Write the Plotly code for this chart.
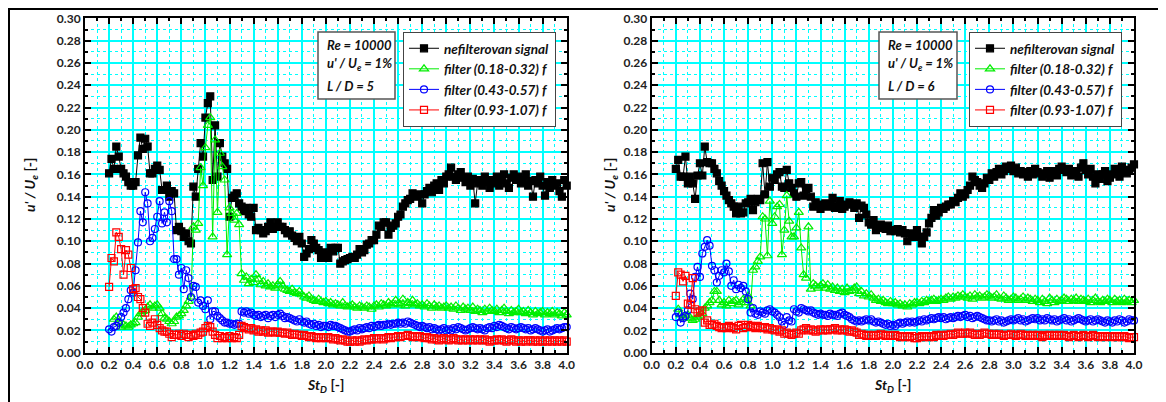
import plotly.graph_objects as go

ST = [0.20,0.22,0.24,0.26,0.28,0.30,0.32,0.34,0.36,0.38,
      0.40,0.42,0.44,0.46,0.48,0.50,0.52,0.54,0.56,0.58,
      0.60,0.62,0.64,0.66,0.68,0.70,0.72,0.74,0.76,0.78,
      0.80,0.82,0.84,0.86,0.88,0.90,0.92,0.94,0.96,0.98,
      1.00,1.02,1.04,1.06,1.08,1.10,1.12,1.14,1.16,1.18,
      1.20,1.22,1.24,1.26,1.28,1.30,1.32,1.34,1.36,1.38,
      1.40,1.42,1.44,1.46,1.48,1.50,1.52,1.54,1.56,1.58,
      1.60,1.62,1.64,1.66,1.68,1.70,1.72,1.74,1.76,1.78,
      1.80,1.82,1.84,1.86,1.88,1.90,1.92,1.94,1.96,1.98,
      2.00,2.02,2.04,2.06,2.08,2.10,2.12,2.14,2.16,2.18,
      2.20,2.22,2.24,2.26,2.28,2.30,2.32,2.34,2.36,2.38,
      2.40,2.42,2.44,2.46,2.48,2.50,2.52,2.54,2.56,2.58,
      2.60,2.62,2.64,2.66,2.68,2.70,2.72,2.74,2.76,2.78,
      2.80,2.82,2.84,2.86,2.88,2.90,2.92,2.94,2.96,2.98,
      3.00,3.02,3.04,3.06,3.08,3.10,3.12,3.14,3.16,3.18,
      3.20,3.22,3.24,3.26,3.28,3.30,3.32,3.34,3.36,3.38,
      3.40,3.42,3.44,3.46,3.48,3.50,3.52,3.54,3.56,3.58,
      3.60,3.62,3.64,3.66,3.68,3.70,3.72,3.74,3.76,3.78,
      3.80,3.82,3.84,3.86,3.88,3.90,3.92,3.94,3.96,3.98,4.00]

# ---------------- L/D = 5 ----------------
LD5_raw = [0.161,0.174,0.165,0.185,0.176,0.165,0.161,0.158,0.153,0.150,
           0.150,0.153,0.177,0.193,0.183,0.192,0.185,0.161,0.161,0.165,
           0.168,0.164,0.146,0.146,0.150,0.140,0.145,0.143,0.110,0.113,
           0.109,0.104,0.107,0.100,0.098,0.149,0.140,0.165,0.188,0.176,
           0.211,0.224,0.230,0.155,0.204,0.158,0.188,0.176,0.170,0.165,
           0.122,0.139,0.141,0.143,0.134,0.131,0.127,0.130,0.124,0.122,
           0.130,0.110,0.112,0.110,0.107,0.109,0.113,0.117,0.111,0.113,
           0.117,0.113,0.113,0.110,0.107,0.109,0.105,0.103,0.100,0.104,
           0.098,0.086,0.089,0.093,0.101,0.098,0.094,0.092,0.085,0.090,
           0.088,0.085,0.094,0.091,0.094,0.094,0.080,0.082,0.083,0.084,
           0.085,0.086,0.085,0.088,0.093,0.090,0.092,0.097,0.098,0.101,
           0.101,0.106,0.114,0.113,0.117,0.117,0.106,0.112,0.114,0.116,
           0.122,0.124,0.131,0.134,0.137,0.138,0.143,0.141,0.140,0.142,
           0.134,0.142,0.145,0.148,0.144,0.150,0.152,0.146,0.155,0.152,
           0.158,0.160,0.166,0.158,0.155,0.160,0.162,0.157,0.153,0.158,
           0.150,0.156,0.134,0.152,0.155,0.150,0.158,0.153,0.148,0.155,
           0.152,0.158,0.150,0.155,0.160,0.152,0.148,0.157,0.160,0.155,
           0.158,0.152,0.155,0.160,0.150,0.154,0.140,0.155,0.152,0.158,
           0.150,0.141,0.153,0.148,0.155,0.150,0.152,0.145,0.140,0.155,0.150]

LD5_f1 = [None,None,0.030,0.032,0.027,0.023,0.025,0.024,0.023,0.025,
          0.026,0.027,0.032,0.035,0.037,0.038,0.041,0.043,0.040,0.042,
          0.043,0.040,0.035,0.031,0.030,0.028,0.026,0.028,0.032,0.033,
          0.035,0.038,0.042,0.046,0.050,0.113,0.110,0.116,0.166,0.150,
          0.184,0.204,0.211,0.104,0.191,0.126,0.179,0.167,0.155,0.088,
          0.130,0.125,0.119,0.125,0.115,0.071,0.065,0.068,0.062,0.066,
          0.063,0.070,0.066,0.061,0.064,0.060,0.062,0.059,0.060,0.058,
          0.061,0.064,0.060,0.057,0.056,0.055,0.057,0.054,0.053,0.055,
          0.052,0.050,0.049,0.051,0.048,0.047,0.046,0.048,0.046,0.045,
          0.046,0.044,0.045,0.043,0.044,0.043,0.042,0.045,0.042,0.041,
          0.042,0.043,0.041,0.040,0.042,0.041,0.040,0.042,0.041,0.039,
          0.042,0.043,0.041,0.044,0.043,0.042,0.045,0.043,0.044,0.047,
          0.044,0.043,0.048,0.042,0.045,0.044,0.047,0.043,0.044,0.042,
          0.043,0.041,0.044,0.042,0.040,0.043,0.041,0.042,0.040,0.041,
          0.042,0.040,0.041,0.039,0.042,0.040,0.038,0.041,0.039,0.040,
          0.038,0.041,0.037,0.039,0.038,0.036,0.039,0.037,0.040,0.038,
          0.037,0.039,0.036,0.038,0.040,0.037,0.035,0.038,0.036,0.037,
          0.039,0.036,0.037,0.035,0.038,0.036,0.034,0.037,0.035,0.036,
          0.037,0.034,0.036,0.035,0.037,0.034,0.036,0.035,0.033,0.036,0.034]

LD5_f2 = [0.021,0.019,0.023,0.024,0.027,0.032,0.036,0.040,0.048,0.056,
          0.054,0.074,0.099,0.127,0.117,0.144,0.134,0.100,0.103,0.111,
          0.122,0.136,0.116,0.126,0.117,0.136,0.127,0.084,0.084,0.070,
          0.076,0.057,0.074,0.067,0.050,0.060,0.059,0.045,0.047,0.042,
          0.039,0.047,0.030,0.037,0.037,0.033,0.031,0.029,0.027,0.027,
          0.026,0.026,0.025,0.026,0.026,0.037,0.036,0.037,0.035,0.036,
          0.034,0.033,0.034,0.032,0.033,0.034,0.031,0.033,0.034,0.032,
          0.034,0.035,0.033,0.031,0.032,0.031,0.030,0.029,0.028,0.030,
          0.028,0.027,0.028,0.026,0.025,0.026,0.024,0.025,0.023,0.024,
          0.024,0.023,0.025,0.024,0.024,0.023,0.022,0.021,0.020,0.019,
          0.019,0.020,0.021,0.020,0.022,0.021,0.022,0.023,0.022,0.024,
          0.023,0.024,0.025,0.024,0.025,0.025,0.026,0.025,0.026,0.026,
          0.027,0.026,0.027,0.026,0.028,0.027,0.026,0.025,0.024,0.023,
          0.024,0.023,0.022,0.023,0.021,0.022,0.021,0.020,0.021,0.022,
          0.020,0.021,0.020,0.022,0.021,0.023,0.022,0.021,0.020,0.021,
          0.022,0.023,0.022,0.021,0.022,0.021,0.020,0.022,0.023,0.022,
          0.024,0.023,0.025,0.024,0.023,0.022,0.021,0.023,0.022,0.021,
          0.022,0.023,0.022,0.021,0.022,0.020,0.021,0.022,0.021,0.020,
          0.019,0.020,0.021,0.019,0.020,0.021,0.022,0.021,0.022,0.023,0.023]

LD5_f3 = [0.059,0.085,0.082,0.108,0.104,0.093,0.070,0.092,0.088,0.076,
          0.057,0.058,0.050,0.048,0.040,0.036,0.026,0.024,0.027,0.030,
          0.025,0.022,0.020,0.019,0.019,0.017,0.014,0.016,0.016,0.017,
          0.015,0.017,0.016,0.014,0.016,0.015,0.017,0.016,0.018,0.019,
          0.022,0.024,0.023,0.019,0.016,0.013,0.015,0.013,0.014,0.013,
          0.015,0.013,0.014,0.013,0.016,0.024,0.023,0.022,0.021,0.022,
          0.020,0.021,0.019,0.020,0.019,0.020,0.018,0.019,0.019,0.018,
          0.019,0.018,0.018,0.017,0.018,0.017,0.016,0.017,0.016,0.016,
          0.015,0.016,0.015,0.014,0.015,0.014,0.013,0.014,0.013,0.014,
          0.013,0.014,0.013,0.012,0.013,0.012,0.011,0.012,0.011,0.010,
          0.010,0.011,0.010,0.011,0.010,0.011,0.012,0.011,0.012,0.012,
          0.013,0.012,0.013,0.013,0.012,0.013,0.014,0.013,0.014,0.014,
          0.015,0.014,0.015,0.015,0.016,0.015,0.014,0.015,0.014,0.015,
          0.014,0.013,0.014,0.013,0.012,0.013,0.012,0.011,0.012,0.013,
          0.012,0.011,0.012,0.013,0.012,0.011,0.012,0.011,0.012,0.011,
          0.012,0.011,0.012,0.011,0.012,0.011,0.012,0.011,0.010,0.011,
          0.011,0.012,0.011,0.012,0.011,0.010,0.011,0.012,0.011,0.010,
          0.011,0.010,0.011,0.010,0.011,0.011,0.010,0.011,0.010,0.011,
          0.010,0.011,0.010,0.011,0.010,0.011,0.010,0.011,0.010,0.011,0.010]

# ---------------- L/D = 6 ----------------
LD6_raw = [0.165,0.173,0.158,0.158,0.176,0.152,0.158,0.152,0.138,0.159,
           0.170,0.159,0.185,0.171,0.170,0.170,0.165,0.161,0.154,0.150,
           0.145,0.141,0.137,0.134,0.131,0.125,0.131,0.125,0.126,0.134,
           0.135,0.138,0.128,0.135,0.138,0.137,0.170,0.142,0.171,0.149,
           0.157,0.155,0.160,0.162,0.149,0.148,0.164,0.152,0.148,0.143,
           0.140,0.152,0.153,0.141,0.147,0.148,0.140,0.131,0.135,0.133,
           0.129,0.132,0.134,0.131,0.133,0.139,0.130,0.132,0.136,0.129,
           0.131,0.133,0.135,0.133,0.130,0.134,0.121,0.132,0.130,0.124,
           0.117,0.115,0.119,0.110,0.112,0.115,0.113,0.111,0.114,0.109,
           0.110,0.109,0.111,0.108,0.110,0.107,0.100,0.107,0.104,0.106,
           0.110,0.104,0.098,0.104,0.108,0.116,0.121,0.128,0.123,0.126,
           0.130,0.129,0.131,0.133,0.133,0.136,0.135,0.139,0.143,0.140,
           0.142,0.146,0.150,0.158,0.155,0.153,0.150,0.148,0.152,0.157,
           0.155,0.161,0.158,0.162,0.165,0.160,0.163,0.167,0.165,0.168,
           0.163,0.166,0.161,0.163,0.160,0.162,0.158,0.163,0.160,0.165,
           0.162,0.161,0.158,0.160,0.163,0.157,0.160,0.163,0.159,0.165,
           0.167,0.164,0.162,0.165,0.159,0.163,0.161,0.158,0.166,0.170,
           0.164,0.160,0.165,0.158,0.152,0.160,0.156,0.160,0.163,0.154,
           0.157,0.160,0.165,0.162,0.158,0.167,0.163,0.161,0.164,0.166,0.169]

LD6_f1 = [None,0.039,0.034,0.031,0.033,0.034,0.031,0.029,0.030,0.032,
          0.033,0.035,0.040,0.042,0.045,0.047,0.055,0.055,0.047,0.043,
          0.045,0.042,0.047,0.044,0.046,0.047,0.043,0.045,0.048,0.045,
          0.051,0.042,0.074,0.077,0.082,0.086,0.122,0.120,0.087,0.136,
          0.116,0.122,0.131,0.133,0.088,0.110,0.141,0.118,0.104,0.104,
          0.112,0.126,0.094,0.070,0.067,0.113,0.057,0.062,0.060,0.058,
          0.060,0.062,0.058,0.061,0.057,0.059,0.056,0.058,0.055,0.057,
          0.054,0.058,0.055,0.056,0.058,0.059,0.053,0.055,0.051,0.053,
          0.050,0.052,0.049,0.047,0.048,0.046,0.047,0.045,0.044,0.046,
          0.044,0.045,0.043,0.044,0.042,0.043,0.041,0.044,0.043,0.045,
          0.045,0.044,0.046,0.045,0.047,0.046,0.047,0.048,0.046,0.047,
          0.048,0.047,0.049,0.050,0.048,0.050,0.049,0.051,0.050,0.052,
          0.050,0.049,0.051,0.048,0.052,0.050,0.051,0.049,0.050,0.052,
          0.051,0.049,0.050,0.052,0.049,0.048,0.051,0.049,0.047,0.048,
          0.050,0.049,0.047,0.048,0.050,0.047,0.049,0.048,0.046,0.048,
          0.047,0.045,0.048,0.046,0.044,0.049,0.047,0.045,0.048,0.046,
          0.047,0.049,0.048,0.046,0.048,0.047,0.049,0.046,0.048,0.047,
          0.046,0.048,0.045,0.047,0.049,0.046,0.045,0.047,0.046,0.048,
          0.047,0.045,0.048,0.046,0.047,0.045,0.048,0.046,0.047,0.045,0.047]

LD6_f2 = [0.032,0.036,0.027,0.031,0.033,0.038,0.053,0.048,0.068,0.077,
          0.068,0.089,0.095,0.101,0.096,0.078,0.074,0.063,0.069,0.074,
          0.072,0.080,0.073,0.060,0.065,0.057,0.061,0.058,0.060,0.055,
          0.048,0.036,0.040,0.035,0.034,0.037,0.036,0.035,0.038,0.039,
          0.037,0.036,0.034,0.032,0.028,0.025,0.032,0.029,0.028,0.039,
          0.037,0.036,0.040,0.039,0.038,0.037,0.038,0.036,0.035,0.034,
          0.035,0.034,0.034,0.033,0.035,0.034,0.034,0.033,0.035,0.036,
          0.034,0.033,0.032,0.030,0.029,0.028,0.029,0.028,0.029,0.030,
          0.029,0.030,0.028,0.027,0.028,0.027,0.026,0.025,0.026,0.024,
          0.025,0.024,0.026,0.027,0.026,0.027,0.028,0.027,0.028,0.027,
          0.028,0.029,0.028,0.030,0.029,0.030,0.031,0.030,0.031,0.032,
          0.031,0.032,0.030,0.031,0.032,0.031,0.032,0.033,0.032,0.033,
          0.034,0.032,0.033,0.031,0.032,0.033,0.032,0.031,0.030,0.029,
          0.029,0.028,0.029,0.030,0.028,0.029,0.027,0.028,0.029,0.030,
          0.029,0.030,0.031,0.029,0.030,0.028,0.029,0.030,0.031,0.030,
          0.031,0.029,0.030,0.029,0.031,0.030,0.029,0.030,0.028,0.029,
          0.030,0.031,0.029,0.030,0.028,0.029,0.030,0.031,0.030,0.029,
          0.028,0.029,0.030,0.028,0.029,0.030,0.029,0.028,0.027,0.029,
          0.028,0.027,0.029,0.028,0.030,0.029,0.027,0.028,0.030,0.029,0.029]

LD6_f3 = [0.051,0.072,0.070,0.064,0.069,0.044,0.043,0.067,0.039,0.036,
          0.037,0.038,0.027,0.029,0.025,0.025,0.026,0.024,0.023,0.022,
          0.023,0.022,0.024,0.023,0.022,0.021,0.024,0.025,0.022,0.023,
          0.025,0.024,0.023,0.022,0.024,0.023,0.022,0.023,0.021,0.022,
          0.021,0.020,0.021,0.019,0.020,0.017,0.018,0.017,0.016,0.017,
          0.018,0.017,0.020,0.021,0.022,0.020,0.021,0.020,0.019,0.020,
          0.021,0.020,0.021,0.020,0.021,0.021,0.022,0.020,0.021,0.020,
          0.021,0.020,0.019,0.020,0.019,0.018,0.016,0.017,0.016,0.015,
          0.016,0.015,0.016,0.015,0.016,0.017,0.016,0.015,0.016,0.015,
          0.015,0.016,0.015,0.014,0.015,0.014,0.015,0.014,0.015,0.013,
          0.013,0.014,0.015,0.014,0.015,0.014,0.015,0.014,0.016,0.015,
          0.016,0.015,0.016,0.016,0.017,0.016,0.017,0.018,0.017,0.017,
          0.018,0.017,0.018,0.017,0.016,0.017,0.016,0.017,0.018,0.017,
          0.017,0.016,0.017,0.016,0.017,0.016,0.015,0.016,0.016,0.017,
          0.016,0.015,0.016,0.017,0.016,0.015,0.016,0.015,0.016,0.015,
          0.016,0.015,0.014,0.016,0.015,0.016,0.015,0.016,0.015,0.016,
          0.015,0.016,0.015,0.014,0.015,0.016,0.015,0.014,0.015,0.016,
          0.015,0.014,0.015,0.016,0.015,0.014,0.015,0.015,0.014,0.015,
          0.015,0.014,0.015,0.014,0.015,0.014,0.015,0.014,0.013,0.014,0.014]

SERIES_NAMES = ["nefilterovan signal", "filter (0.18-0.32) f",
                "filter (0.43-0.57) f", "filter (0.93-1.07) f"]
X_TICKS = [0.0,0.2,0.4,0.6,0.8,1.0,1.2,1.4,1.6,1.8,2.0,2.2,2.4,2.6,2.8,3.0,3.2,3.4,3.6,3.8,4.0]
Y_TICKS = [0.00,0.02,0.04,0.06,0.08,0.10,0.12,0.14,0.16,0.18,0.20,0.22,0.24,0.26,0.28,0.30]
INFO = ["L / D = 5", "L / D = 6"]

# The page body has an 8 px margin, so the figure starts at window pixel (8, 8).
OFF = 8
W, H = 1166 - OFF, 402 - OFF
FONT = "Lato"

def px_x(p):
    # p: window pixel column
    return (p - OFF) / W

def px_y(p):
    # p: window pixel row
    return 1 - (p - OFF) / H

styles = [
    dict(color="#000000", symbol="square", size=7),
    dict(color="#00ee00", symbol="triangle-up-open", size=8),
    dict(color="#0000ff", symbol="circle-open", size=7),
    dict(color="#ff0000", symbol="square-open", size=7),
]

fig = go.Figure()
panels = [
    ([LD5_raw, LD5_f1, LD5_f2, LD5_f3], "x", "y", "legend"),
    ([LD6_raw, LD6_f1, LD6_f2, LD6_f3], "x2", "y2", "legend2"),
]
for data, xa, ya, lg in panels:
    for name, ys, st in zip(SERIES_NAMES, data, styles):
        fig.add_trace(go.Scatter(
            x=ST, y=ys, xaxis=xa, yaxis=ya, legend=lg,
            name="<b><i>" + name + "</i></b>",
            mode="lines+markers", cliponaxis=False,
            line=dict(color=st["color"], width=1),
            marker=dict(symbol=st["symbol"], size=st["size"], color=st["color"],
                        line=dict(color=st["color"], width=1.2)),
        ))

# plot area bounds in window pixels
L_X = (85, 566.7)
R_X = (651.7, 1134)
Y_PX = (18.4, 352.7)

def xaxis_cfg(dom, anchor):
    return dict(
        domain=[px_x(dom[0]), px_x(dom[1])], anchor=anchor, range=[0, 4],
        automargin=False,
        tickvals=X_TICKS, ticktext=["<b>%.1f</b>" % v for v in X_TICKS],
        ticks="inside", ticklen=6, tickwidth=1.5, tickcolor="#000",
        showline=True, linewidth=2, linecolor="#000", mirror="ticks",
        showgrid=True, gridcolor="#00ffff", gridwidth=1.5, zeroline=False,
        tickfont=dict(family=FONT, size=12, color="#222"),
        minor=dict(dtick=0.1, tick0=0, ticks="inside", ticklen=3, tickcolor="#000",
                   showgrid=True, gridcolor="#00ffff", griddash="dot", gridwidth=1),
    )

def yaxis_cfg(anchor):
    return dict(
        domain=[px_y(Y_PX[1]), px_y(Y_PX[0])], anchor=anchor, range=[0, 0.30],
        automargin=False,
        tickvals=Y_TICKS, ticktext=["<b>%.2f</b>" % v for v in Y_TICKS],
        ticks="inside", ticklen=6, tickwidth=1.5, tickcolor="#000",
        showline=True, linewidth=2, linecolor="#000", mirror="ticks",
        showgrid=True, gridcolor="#00ffff", gridwidth=1.5, zeroline=False,
        tickfont=dict(family=FONT, size=12, color="#222"),
        minor=dict(dtick=0.01, tick0=0, ticks="inside", ticklen=3, tickcolor="#000",
                   showgrid=True, gridcolor="#00ffff", griddash="dot", gridwidth=1),
    )

legend_common = dict(
    bgcolor="#ffffff", bordercolor="#444444", borderwidth=1,
    font=dict(family=FONT, size=13.5, color="#111"),
    xanchor="left", yanchor="top", tracegroupgap=0, itemwidth=30,
)

shapes = [
    dict(type="line", xref="paper", yref="paper", x0=0, x1=1, y0=px_y(9), y1=px_y(9),
         line=dict(color="#000", width=2)),
    dict(type="line", xref="paper", yref="paper", x0=px_x(9), x1=px_x(9), y0=px_y(9), y1=0,
         line=dict(color="#000", width=2)),
]
annotations = []
for (x0, x1), info, ytx in [((318, 395), INFO[0], 30), ((879, 957), INFO[1], 610)]:
    shapes.append(dict(type="rect", xref="paper", yref="paper",
                       x0=px_x(x0), x1=px_x(x1), y0=px_y(99), y1=px_y(32),
                       line=dict(color="#555", width=1.5), fillcolor="#ffffff", layer="above"))
    lines = ["Re = 10000", "u' / U<sub>e</sub> = 1%", info]
    for txt, yy in zip(lines, [45, 64, 86]):
        annotations.append(dict(xref="paper", yref="paper", x=px_x(x0 + 7), y=px_y(yy),
                                xanchor="left", yanchor="middle", showarrow=False,
                                text="<b><i>" + txt + "</i></b>",
                                font=dict(family=FONT, size=13, color="#111")))
    annotations.append(dict(xref="paper", yref="paper", x=px_x(ytx), y=px_y(185),
                            xanchor="center", yanchor="middle", showarrow=False, textangle=-90,
                            text="<b><i>u' / U</i><sub><i>e</i></sub> [-]</b>",
                            font=dict(family=FONT, size=14, color="#111")))
for cx in [(L_X[0] + L_X[1]) / 2, (R_X[0] + R_X[1]) / 2]:
    annotations.append(dict(xref="paper", yref="paper", x=px_x(cx), y=px_y(385),
                            xanchor="center", yanchor="middle", showarrow=False,
                            text="<b><i>St</i><sub><i>D</i></sub> [-]</b>",
                            font=dict(family=FONT, size=14, color="#111")))

fig.update_layout(
    width=W, height=H, margin=dict(l=0, r=0, t=0, b=0, autoexpand=False),
    paper_bgcolor="#ffffff", plot_bgcolor="#ffffff",
    font=dict(family=FONT),
    xaxis=xaxis_cfg(L_X, "y"), yaxis=yaxis_cfg("x"),
    xaxis2=xaxis_cfg(R_X, "y2"), yaxis2=yaxis_cfg("x2"),
    legend=dict(x=px_x(403), y=px_y(32), **legend_common),
    legend2=dict(x=px_x(969), y=px_y(32), **legend_common),
    shapes=shapes, annotations=annotations, showlegend=True,
)

fig.write_html("out.html")
